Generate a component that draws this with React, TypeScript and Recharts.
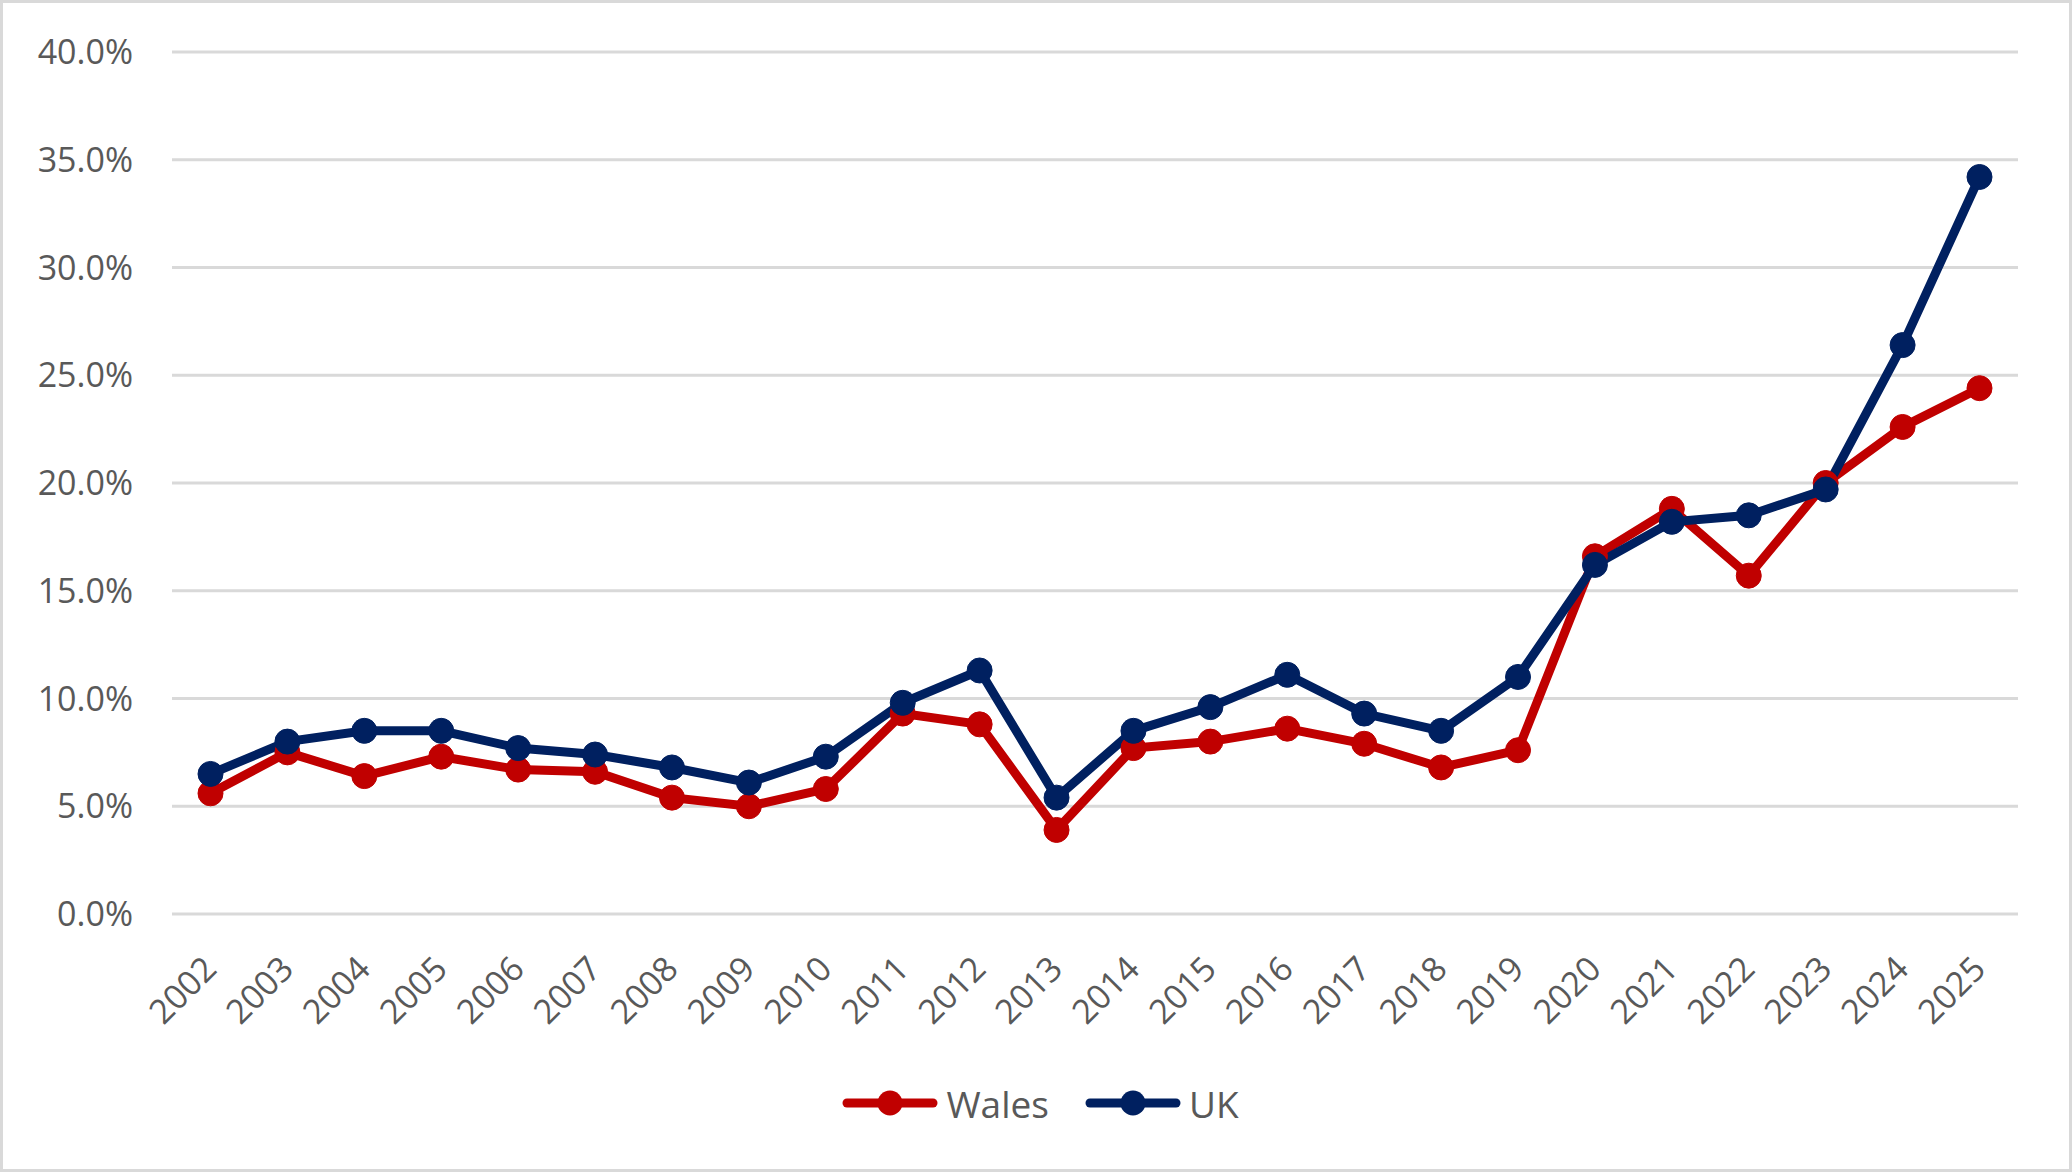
import React from 'react';
import { CartesianGrid, Legend, Line, LineChart, XAxis, YAxis } from 'recharts';

const years = [
    '2002', '2003', '2004', '2005', '2006', '2007', '2008', '2009', '2010', '2011', '2012', '2013',
    '2014', '2015', '2016', '2017', '2018', '2019', '2020', '2021', '2022', '2023', '2024', '2025',
];
const wales = [5.6, 7.5, 6.4, 7.3, 6.7, 6.6, 5.4, 5.0, 5.8, 9.3, 8.8, 3.9, 7.7, 8.0, 8.6, 7.9, 6.8, 7.6, 16.6, 18.8, 15.7, 20.0, 22.6, 24.4];
const uk = [6.5, 8.0, 8.5, 8.5, 7.7, 7.4, 6.8, 6.1, 7.3, 9.8, 11.3, 5.4, 8.5, 9.6, 11.1, 9.3, 8.5, 11.0, 16.2, 18.2, 18.5, 19.7, 26.4, 34.2];
const yTicks = [0, 5, 10, 15, 20, 25, 30, 35, 40];

const series = [
    { key: 'wales', name: 'Wales', color: '#C00000' },
    { key: 'uk', name: 'UK', color: '#002060' },
];

const data = years.map((year, i) => ({ year, wales: wales[i], uk: uk[i] }));

const FONT = "'Open Sans', 'Noto Sans', sans-serif";
const TEXT = '#595959';

const XTick = (props: any) => {
    const { x, y, payload } = props;
    return (
        <g transform={`translate(${x + 8},${y + 57})`}>
            <text transform="rotate(-45)" textAnchor="end" fill={TEXT} fontSize={34} fontFamily={FONT}>
                {payload.value}
            </text>
        </g>
    );
};

const LegendContent = () => (
    <div style={{ display: 'flex', justifyContent: 'center', alignItems: 'center', height: 60, paddingLeft: 9 }}>
        {series.map((s, i) => (
            <div key={s.key} style={{ display: 'flex', alignItems: 'center', marginLeft: i ? 36 : 0 }}>
                <svg width={96} height={30}>
                    <line x1={5} y1={15} x2={91} y2={15} stroke={s.color} strokeWidth={9} strokeLinecap="round" />
                    <circle cx={48} cy={15} r={12.5} fill={s.color} />
                </svg>
                <span style={{ marginLeft: 8, color: TEXT, fontSize: 37, fontFamily: FONT }}>{s.name}</span>
            </div>
        ))}
    </div>
);

export default function App() {
    return (
        <div style={{ position: 'absolute', left: 0, top: 0, width: 2072, height: 1172, background: '#fff' }}>
            <LineChart width={2072} height={1172} data={data} margin={{ top: 52, right: 54, left: 0, bottom: 39 }}>
                <CartesianGrid vertical={false} stroke="#D9D9D9" strokeWidth={3} />
                <XAxis
                    dataKey="year"
                    axisLine={false}
                    tickLine={false}
                    tickSize={0}
                    tickMargin={0}
                    height={159}
                    interval={0}
                    padding={{ left: 38.5, right: 38.5 }}
                    tick={<XTick />}
                />
                <YAxis
                    width={172}
                    domain={[0, 40]}
                    ticks={yTicks}
                    axisLine={false}
                    tickLine={false}
                    tickSize={0}
                    tickMargin={39}
                    tickFormatter={(v: number) => v.toFixed(1) + '%'}
                    tick={{ fill: TEXT, fontSize: 34, fontFamily: FONT }}
                />
                <Legend
                    verticalAlign="bottom"
                    height={60}
                    wrapperStyle={{ left: 0, width: 2072 }}
                    content={<LegendContent />}
                />
                {series.map((s) => (
                    <Line
                        key={s.key}
                        dataKey={s.key}
                        name={s.name}
                        stroke={s.color}
                        strokeWidth={9}
                        dot={{ r: 12.5, fill: s.color, stroke: s.color, strokeWidth: 1 }}
                        isAnimationActive={false}
                    />
                ))}
            </LineChart>
            <div
                style={{
                    position: 'absolute',
                    left: 0,
                    top: 0,
                    width: 2072,
                    height: 1172,
                    boxSizing: 'border-box',
                    border: '3px solid #D9D9D9',
                    pointerEvents: 'none',
                }}
            />
        </div>
    );
}
